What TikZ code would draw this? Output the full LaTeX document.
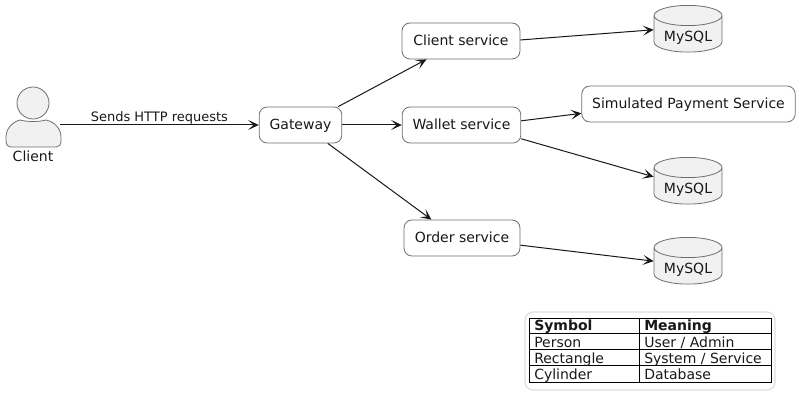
\documentclass[tikz,border=0pt]{standalone}
\usepackage{fontspec}
\setmainfont{DejaVu Sans}
\usepackage{xcolor}
\usetikzlibrary{arrows.meta,shapes.geometric}
\definecolor{ink}{HTML}{181818}
\definecolor{edge}{HTML}{6E6E6E}
\definecolor{shade}{HTML}{F1F1F1}
\definecolor{frame}{HTML}{DDDDDD}
\tikzset{
  svcbox/.style={draw=edge,fill=white,line width=.6pt,rounded corners=6pt,inner sep=0pt,
    minimum height=27pt,text height=9.5pt,text depth=2pt,font=\fontsize{10.5}{12}\selectfont,text=ink},
  dbnode/.style={draw=edge,fill=shade,line width=.6pt,shape=cylinder,shape border rotate=90,
    aspect=.42,cylinder uses custom fill,cylinder body fill=shade,cylinder end fill=shade,
    minimum width=51pt,minimum height=30pt,inner sep=0pt,text height=12pt,text depth=0pt,
    font=\fontsize{10.5}{12}\selectfont,text=ink},
  flow/.style={->,ink,line width=.75pt},
  cell/.style={anchor=base west,inner sep=0pt,font=\fontsize{10.5}{12}\selectfont,text=ink},
  tabrule/.style={black,line width=.75pt}
}
\begin{document}
\begin{tikzpicture}[x=0.75pt,y=-0.75pt,>={Stealth[length=8pt,width=7.5pt,inset=4pt]}]
\useasboundingbox (0,0) rectangle (800,409);
% person
\draw[edge,fill=shade,line width=.6pt] (20,120) .. controls (27,122) and (39,122) .. (46,120)
  .. controls (55,122) and (61,129) .. (61,137) -- (61,141)
  .. controls (61,145) and (59,147) .. (56,147) -- (12,147)
  .. controls (8,147) and (6,145) .. (6,141) -- (6,137)
  .. controls (6,129) and (12,122) .. (20,120) -- cycle;
\node[draw=edge,fill=shade,line width=.6pt,circle,minimum size=24pt,inner sep=0pt] (head) at (33,103) {};
\node[inner sep=0pt,font=\fontsize{10.5}{12}\selectfont,text=ink] (client) at (33,156) {Client};
\coordinate (clientport) at (60,125);

% services
\node[svcbox,minimum width=62pt] (gateway) at (300.5,125) {Gateway};
\node[svcbox,minimum width=88.5pt] (clientsvc) at (461,41) {Client service};
\node[svcbox,minimum width=89pt] (walletsvc) at (461.5,125) {Wallet service};
\node[svcbox,minimum width=87pt] (ordersvc) at (462,238) {Order service};
\node[svcbox,minimum width=160pt] (paysvc) at (688.5,104) {Simulated Payment Service};

% databases
\node[dbnode] (dbclient) at (688,34) {MySQL};
\node[dbnode] (dbwallet) at (688,186) {MySQL};
\node[dbnode] (dborder) at (688,266) {MySQL};

% connectors
\draw[flow] (clientport) -- node[above=0pt,inner sep=0pt,font=\fontsize{9.75}{11}\selectfont,text=ink] (reqlabel) {Sends HTTP requests} (gateway.west);
\draw[flow] (gateway.26) -- (clientsvc.208);
\draw[flow] (gateway.east) -- (walletsvc.west);
\draw[flow] (gateway.-34) -- (ordersvc.149);
\draw[flow] (clientsvc.1) -- (dbclient.173);
\draw[flow] (walletsvc.4) -- (paysvc.185);
\draw[flow] (walletsvc.-13) -- (dbwallet.165);
\draw[flow] (ordersvc.-7) -- (dborder.172);

% legend
\node[draw=frame,line width=.9pt,rounded corners=6pt,minimum width=187.5pt,minimum height=58.5pt,inner sep=0pt] (legend) at (650,351) {};
\draw[tabrule] (529,319) rectangle (771,383);
\draw[tabrule] (529,334) -- (771,334);
\draw[tabrule] (529,350) -- (771,350);
\draw[tabrule] (529,366) -- (771,366);
\draw[tabrule] (639,319) -- (639,383);
\node[cell,font=\fontsize{10.5}{12}\selectfont\bfseries] (symhead) at (534,331) {Symbol};
\node[cell,font=\fontsize{10.5}{12}\selectfont\bfseries] (meanhead) at (644,331) {Meaning};
\node[cell] (symperson) at (534,348) {Person};
\node[cell] (meanperson) at (644,348) {User / Admin};
\node[cell] (symrect) at (534,364) {Rectangle};
\node[cell] (meanrect) at (644,364) {System / Service};
\node[cell] (symcyl) at (534,380) {Cylinder};
\node[cell] (meancyl) at (644,380) {Database};
\end{tikzpicture}
\end{document}
